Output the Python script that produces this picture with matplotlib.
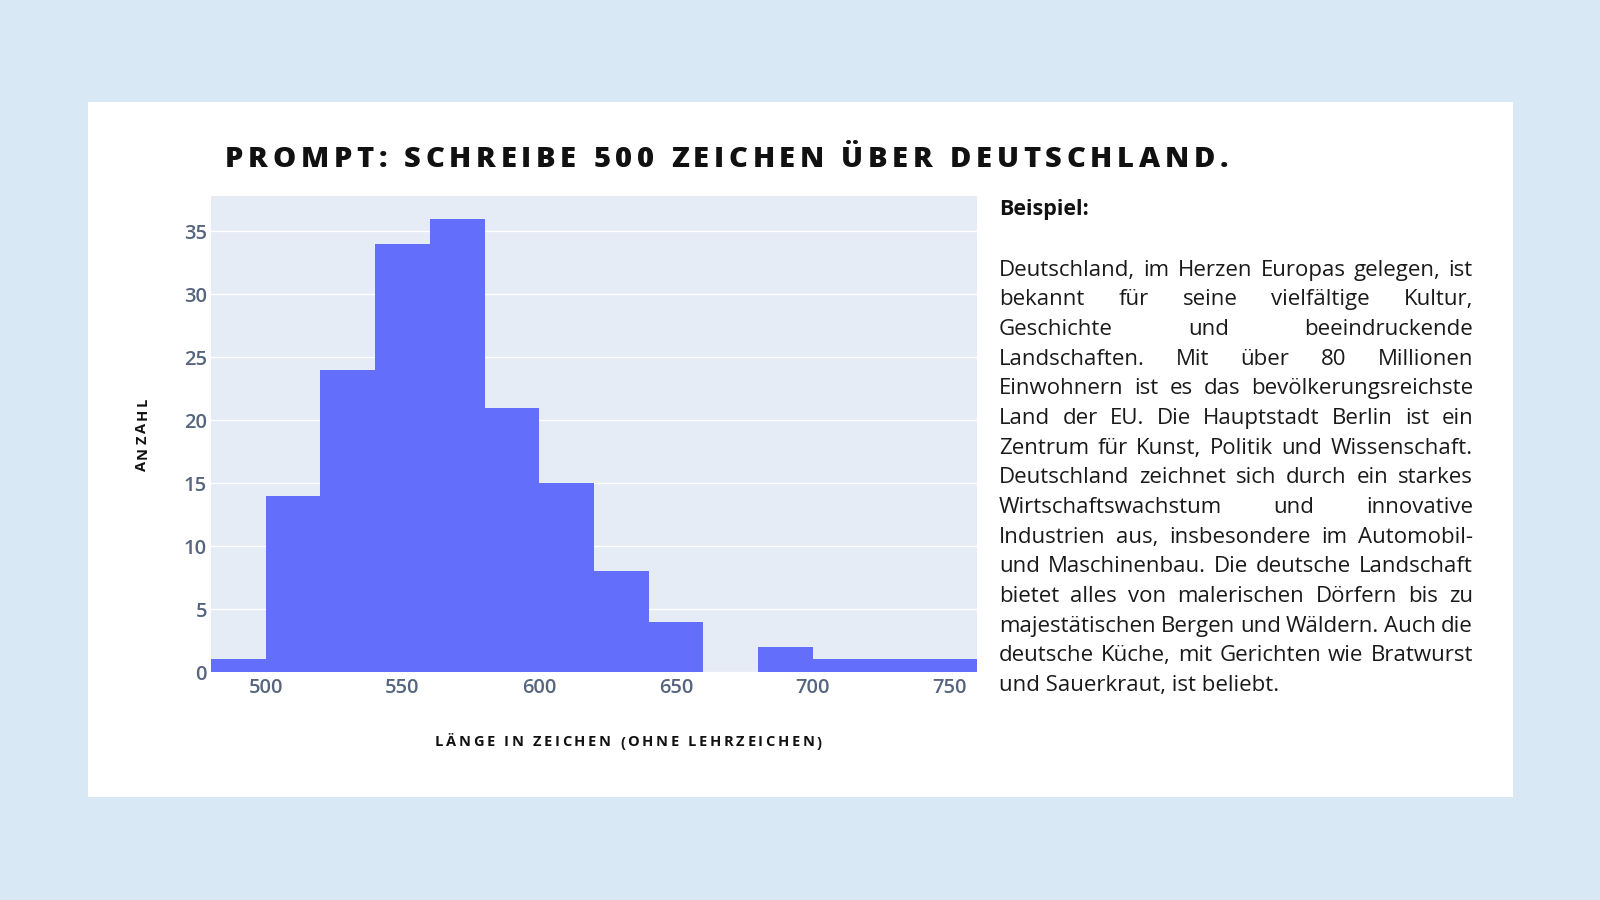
import numpy as np
import matplotlib
matplotlib.use("Agg")
import matplotlib.pyplot as plt
from matplotlib.font_manager import FontProperties
from matplotlib.patches import Rectangle

# ---------------- data ----------------
bin_edges = [480, 500, 520, 540, 560, 580, 600, 620, 640, 660, 680, 700, 720, 740, 760]
counts = [1, 14, 24, 34, 36, 21, 15, 8, 4, 0, 2, 1, 1, 1]
x_ticks = [500, 550, 600, 650, 700, 750]
y_ticks = [0, 5, 10, 15, 20, 25, 30, 35]
title = "PROMPT: SCHREIBE 500 ZEICHEN ÜBER DEUTSCHLAND."
x_label = "LÄNGE IN ZEICHEN (OHNE LEHRZEICHEN)"
y_label = "ANZAHL"
example_heading = "Beispiel:"
example_lines = [
    "Deutschland, im Herzen Europas gelegen, ist",
    "bekannt für seine vielfältige Kultur,",
    "Geschichte und beeindruckende",
    "Landschaften. Mit über 80 Millionen",
    "Einwohnern ist es das bevölkerungsreichste",
    "Land der EU. Die Hauptstadt Berlin ist ein",
    "Zentrum für Kunst, Politik und Wissenschaft.",
    "Deutschland zeichnet sich durch ein starkes",
    "Wirtschaftswachstum und innovative",
    "Industrien aus, insbesondere im Automobil-",
    "und Maschinenbau. Die deutsche Landschaft",
    "bietet alles von malerischen Dörfern bis zu",
    "majestätischen Bergen und Wäldern. Auch die",
    "deutsche Küche, mit Gerichten wie Bratwurst",
    "und Sauerkraut, ist beliebt.",
]

FAM = ["Open Sans", "DejaVu Sans"]
plt.rcParams["font.family"] = FAM

W, H = 1600, 900
fig = plt.figure(figsize=(16, 9), dpi=100, facecolor="#D8E9F5")


def fx(x):
    return x / W


def fy(y):
    return 1 - y / H


# white card
fig.add_artist(Rectangle((fx(88), fy(797)), (1513 - 88) / W, (797 - 102) / H,
                         transform=fig.transFigure, facecolor="white",
                         edgecolor="none", zorder=0))

# ---------------- histogram ----------------
ax = fig.add_axes([fx(211), fy(672), (977 - 211) / W, (672 - 196) / H])
ax.set_facecolor("#E5ECF6")
ax.bar(bin_edges[:-1], counts, width=np.diff(bin_edges), align="edge",
       color="#636EFA", linewidth=0, zorder=3)
ax.set_xlim(bin_edges[0], bin_edges[-1])
ax.set_ylim(0, 37.8)
ax.set_xticks(x_ticks)
ax.set_yticks(y_ticks)
ax.yaxis.grid(True, color="white", linewidth=1.0)
ax.xaxis.grid(False)
ax.set_axisbelow(True)
for s in ax.spines.values():
    s.set_visible(False)
ax.tick_params(axis="both", length=0, labelsize=14.5, labelcolor="#56657f")
ax.tick_params(axis="x", pad=4.5)
ax.tick_params(axis="y", pad=3)
for lab in ax.get_xticklabels() + ax.get_yticklabels():
    lab.set_fontweight("semibold")

renderer = fig.canvas.get_renderer()


def text_w(t, prop):
    return renderer.get_text_width_height_descent(t, prop, ismath=False)[0]


def tracked_text(s, start, end, baseline, size, weight="bold", color="#111111",
                 rotation=0):
    prop = FontProperties(family=FAM, size=size, weight=weight)
    hh = text_w("HH", prop)
    adv = [text_w("H" + c + "H", prop) - hh for c in s]
    natural = sum(adv[:-1]) + text_w(s[-1], prop)
    length = abs(end - start)
    tracking = (length - natural) / (len(s) - 1)
    pos = 0.0
    for c, a in zip(s, adv):
        if c.strip():
            if rotation == 0:
                fig.text(fx(start + pos), fy(baseline), c, fontproperties=prop,
                         color=color, ha="left", va="baseline")
            else:
                fig.text(fx(baseline), fy(start - pos), c, fontproperties=prop,
                         color=color, ha="left", va="baseline", rotation=90,
                         rotation_mode="anchor")
        pos += a + tracking


# title
tracked_text(title, 225, 1228, 167, 21, weight="heavy", color="#111111")
# axis labels
tracked_text(x_label, 435, 822, 746.5, 10.5, weight="bold", color="#111111")
tracked_text(y_label, 471.5, 398, 146.5, 10.5, weight="bold", color="#111111",
             rotation=90)

# ---------------- example text ----------------
prop_b = FontProperties(family=FAM, size=15.5, weight="bold")
prop_p = FontProperties(family=FAM, size=16)
left_x, right_x = 999, 1473
fig.text(fx(left_x), fy(215.5), example_heading, fontproperties=prop_b,
         color="#111111", ha="left", va="baseline")

first_base, line_step = 275.7, 29.66
for i, line in enumerate(example_lines):
    base = first_base + i * line_step
    if i == len(example_lines) - 1:
        fig.text(fx(left_x), fy(base), line, fontproperties=prop_p,
                 color="#1a1a1a", ha="left", va="baseline")
        continue
    words = line.split()
    ws = [text_w(wd, prop_p) for wd in words]
    gap = (right_x - left_x - sum(ws)) / (len(words) - 1)
    pos = left_x
    for wd, ww in zip(words, ws):
        fig.text(fx(pos), fy(base), wd, fontproperties=prop_p,
                 color="#1a1a1a", ha="left", va="baseline")
        pos += ww + gap

fig.savefig("out.png", dpi=100, facecolor=fig.get_facecolor())
